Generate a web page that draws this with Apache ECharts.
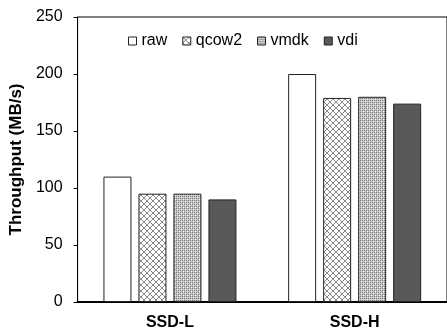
<!DOCTYPE html>
<html><head><meta charset="utf-8">
<script src="https://cdn.jsdelivr.net/npm/echarts@6/dist/echarts.min.js"></script>
<style>html,body{margin:0;padding:0;background:#fff}#c{width:447px;height:331px}</style>
</head><body><div id="c"></div>
<script>
const categories = ['SSD-L', 'SSD-H'];
const seriesNames = ['raw', 'qcow2', 'vmdk', 'vdi'];
const rawValues = [110, 200];
const qcow2Values = [95, 179];
const vmdkValues = [95, 180];
const vdiValues = [90, 174];
const yTicks = [0, 50, 100, 150, 200, 250];

function makePattern(kind) {
  const c = document.createElement('canvas');
  const ctx = c.getContext('2d');
  if (kind === 'cross') {
    c.width = 6; c.height = 6;
    ctx.fillStyle = '#fff'; ctx.fillRect(0, 0, 6, 6);
    ctx.strokeStyle = '#8a8a8a'; ctx.lineWidth = 1;
    ctx.beginPath(); ctx.moveTo(0, 0); ctx.lineTo(6, 6); ctx.moveTo(6, 0); ctx.lineTo(0, 6); ctx.stroke();
  } else {
    c.width = 4; c.height = 4;
    ctx.fillStyle = '#c8c8c8'; ctx.fillRect(0, 0, 4, 4);
    ctx.fillStyle = '#7a7a7a';
    ctx.fillRect(0, 0, 1, 1); ctx.fillRect(2, 2, 1, 1); ctx.fillRect(0, 2, 1, 1); ctx.fillRect(2, 0, 1, 1);
    ctx.fillStyle = '#eeeeee';
    ctx.fillRect(1, 1, 1, 1); ctx.fillRect(3, 3, 1, 1);
  }
  return { image: c, repeat: 'repeat' };
}

const fills = ['#ffffff', makePattern('cross'), makePattern('dots'), '#595959'];
const dataSets = [rawValues, qcow2Values, vmdkValues, vdiValues];

const chart = echarts.init(document.getElementById('c'), null, { renderer: 'canvas' });
chart.setOption({
  animation: false,
  textStyle: { fontFamily: 'Liberation Sans, Arial, sans-serif' },
  grid: { left: 72, top: 17, right: -5, bottom: 26, show: true, borderColor: '#000', borderWidth: 1 },
  legend: {
    top: 28, left: 123, itemWidth: 8, itemHeight: 8, itemGap: 15,
    icon: 'rect',
    textStyle: { fontSize: 16, color: '#000' },
    itemStyle: { borderColor: '#222', borderWidth: 1 },
    data: seriesNames
  },
  xAxis: {
    type: 'category', data: categories,
    axisLine: { lineStyle: { color: '#000', width: 2 } },
    axisTick: { show: false },
    axisLabel: { fontSize: 16, fontWeight: 'bold', color: '#000', margin: 13 }
  },
  yAxis: {
    type: 'value', min: 0, max: 250, interval: 50,
    name: 'Throughput (MB/s)', nameLocation: 'middle', nameGap: 44,
    nameTextStyle: { fontSize: 17, fontWeight: 'bold', color: '#000' },
    axisLine: { show: true, lineStyle: { color: '#000', width: 1 } },
    axisTick: { show: true, inside: false, length: 4, lineStyle: { color: '#000' } },
    splitLine: { show: false },
    axisLabel: { fontSize: 16, color: '#000', margin: 15, formatter: v => yTicks.includes(v) ? String(v) : '' }
  },
  series: seriesNames.map((n, i) => ({
    name: n, type: 'bar', data: dataSets[i],
    barWidth: 28, barGap: '25%',
    itemStyle: { color: fills[i], borderColor: '#222', borderWidth: 1 }
  }))
});
</script></body></html>
